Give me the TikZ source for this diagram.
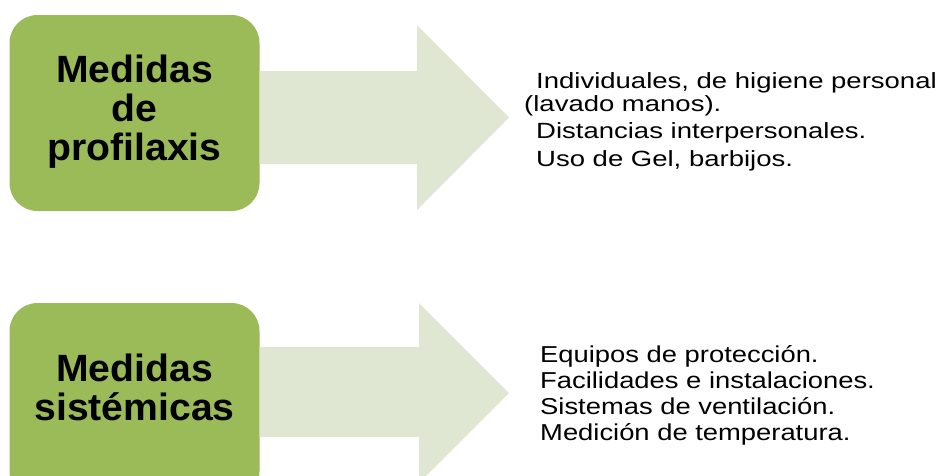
\documentclass[tikz,border=0pt]{standalone}
\usepackage{fontspec}
\setmainfont{Liberation Sans}
\newfontfamily\listfont{Liberation Sans}[FakeStretch=1.25]
\newfontfamily\lowfont{Liberation Sans}[FakeStretch=1.19]
\newfontfamily\boxfont{Liberation Sans}[FakeStretch=1.03]
\usetikzlibrary{positioning}
\definecolor{boxgreen}{RGB}{155,187,89}
\definecolor{arrowgreen}{RGB}{223,231,210}

\begin{document}
\begin{tikzpicture}[x=1pt,y=-1pt,
	main box/.style={rectangle,rounded corners=28pt,fill=boxgreen,minimum width=250pt,minimum height=196pt,inner sep=0pt},
	box text/.style={align=center,inner sep=0pt,font=\boxfont\bfseries\fontsize{38}{39}\selectfont},
	list text/.style={align=left,anchor=north west,inner sep=0pt,font=\listfont\fontsize{22}{26}\selectfont},
	block arrow/.style={fill=arrowgreen}]
		
		\useasboundingbox (0,0) rectangle (942,475);
		\clip (0,0) rectangle (942,475);
		
		% top row
		\node[main box] (prof) at (134.5,113) {};
		\node[box text] (prof text) at (134.5,112) {Medidas\\de\\profilaxis};
		\coordinate (prof tip) at (509,117.5);
		\fill[block arrow] (prof.east |- 0,71) -- (417,71) -- (417,25) -- (prof tip)
		-- (417,210) -- (417,164) -- (prof.east |- 0,164) -- cycle;
		\node[list text] (prof list) at (524,72.3) {\hspace*{12pt}Individuales, de higiene personal\\[-3pt](lavado manos).\\[1pt]\hspace*{12pt}Distancias interpersonales.\\[2pt]\hspace*{12pt}Uso de Gel, barbijos.};
		
		% bottom row
		\node[main box] (sist) at (134.5,401) {};
		\node[box text] (sist text) at (134.5,387) {Medidas\\sistémicas};
		\coordinate (sist tip) at (509,393);
		\fill[block arrow] (sist.east |- 0,347) -- (419,347) -- (419,303) -- (sist tip)
		-- (419,483) -- (419,437) -- (sist.east |- 0,437) -- cycle;
		\node[list text,font=\lowfont\fontsize{23}{26}\selectfont] (sist list) at (540,345) {Equipos de protección.\\Facilidades e instalaciones.\\Sistemas de ventilación.\\Medición de temperatura.};
		
\end{tikzpicture}
\end{document}
